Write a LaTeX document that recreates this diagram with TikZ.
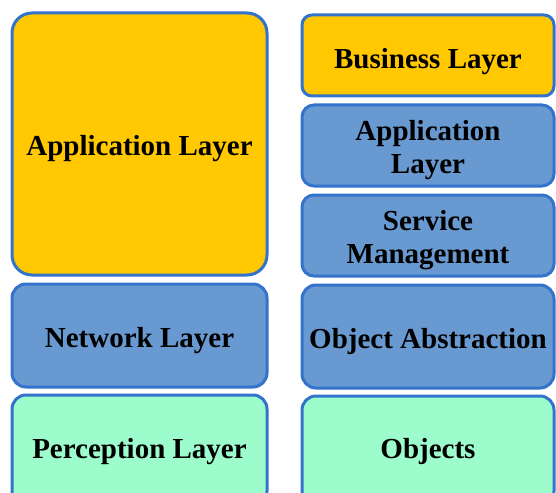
\documentclass[tikz,border=0pt]{standalone}
\usepackage{fontspec}
\setmainfont{Liberation Serif}
\definecolor{layeryellow}{RGB}{255,200,0}
\definecolor{layerblue}{RGB}{104,153,208}
\definecolor{layergreen}{RGB}{156,252,204}
\definecolor{layerborder}{RGB}{52,115,204}
\begin{document}
\begin{tikzpicture}[x=1pt,y=-1pt,
  layer/.style={draw=layerborder, line width=3pt, rounded corners=14pt, inner sep=0pt},
  yel/.style={layer, fill=layeryellow},
  blu/.style={layer, fill=layerblue},
  grn/.style={layer, fill=layergreen},
  txt/.style={font=\fontsize{29}{33}\selectfont\bfseries, align=center, inner sep=0pt, text=black, yshift=-5pt}]
\clip (0,0) rectangle (556,492);
\fill[white] (0,0) rectangle (556,492);
% left column
\node[yel, minimum width=255pt, minimum height=262pt, rounded corners=20pt] (appL) at (139.5,144) {};
\node[blu, minimum width=255pt, minimum height=103pt] (net) at (139.5,335.5) {};
\node[grn, minimum width=255pt, minimum height=110pt] (perc) at (139.5,450) {};
% right column
\node[yel, minimum width=252pt, minimum height=81pt, rounded corners=10pt] (bus) at (428,55.5) {};
\node[blu, minimum width=252pt, minimum height=81pt, rounded corners=12pt] (appR) at (428,145.5) {};
\node[blu, minimum width=252pt, minimum height=81pt, rounded corners=12pt] (serv) at (428,235.5) {};
\node[blu, minimum width=252pt, minimum height=103pt] (objabs) at (428,336.5) {};
\node[grn, minimum width=252pt, minimum height=109pt] (obj) at (428,450.5) {};
% texts
\node[txt] (tappL) at (appL.center) {Application Layer};
\node[txt] (tnet) at (net.center) {Network Layer};
\node[txt] (tperc) at (139.5,447) {Perception Layer};
\node[txt, yshift=-1pt] (tbus) at (bus.center) {Business Layer};
\node[txt] (tappR) at (appR.center) {Application\\Layer};
\node[txt] (tserv) at (serv.center) {Service\\Management};
\node[txt] (tobjabs) at (objabs.center) {Object Abstraction};
\node[txt] (tobj) at (428,447) {Objects};
\end{tikzpicture}
\end{document}
